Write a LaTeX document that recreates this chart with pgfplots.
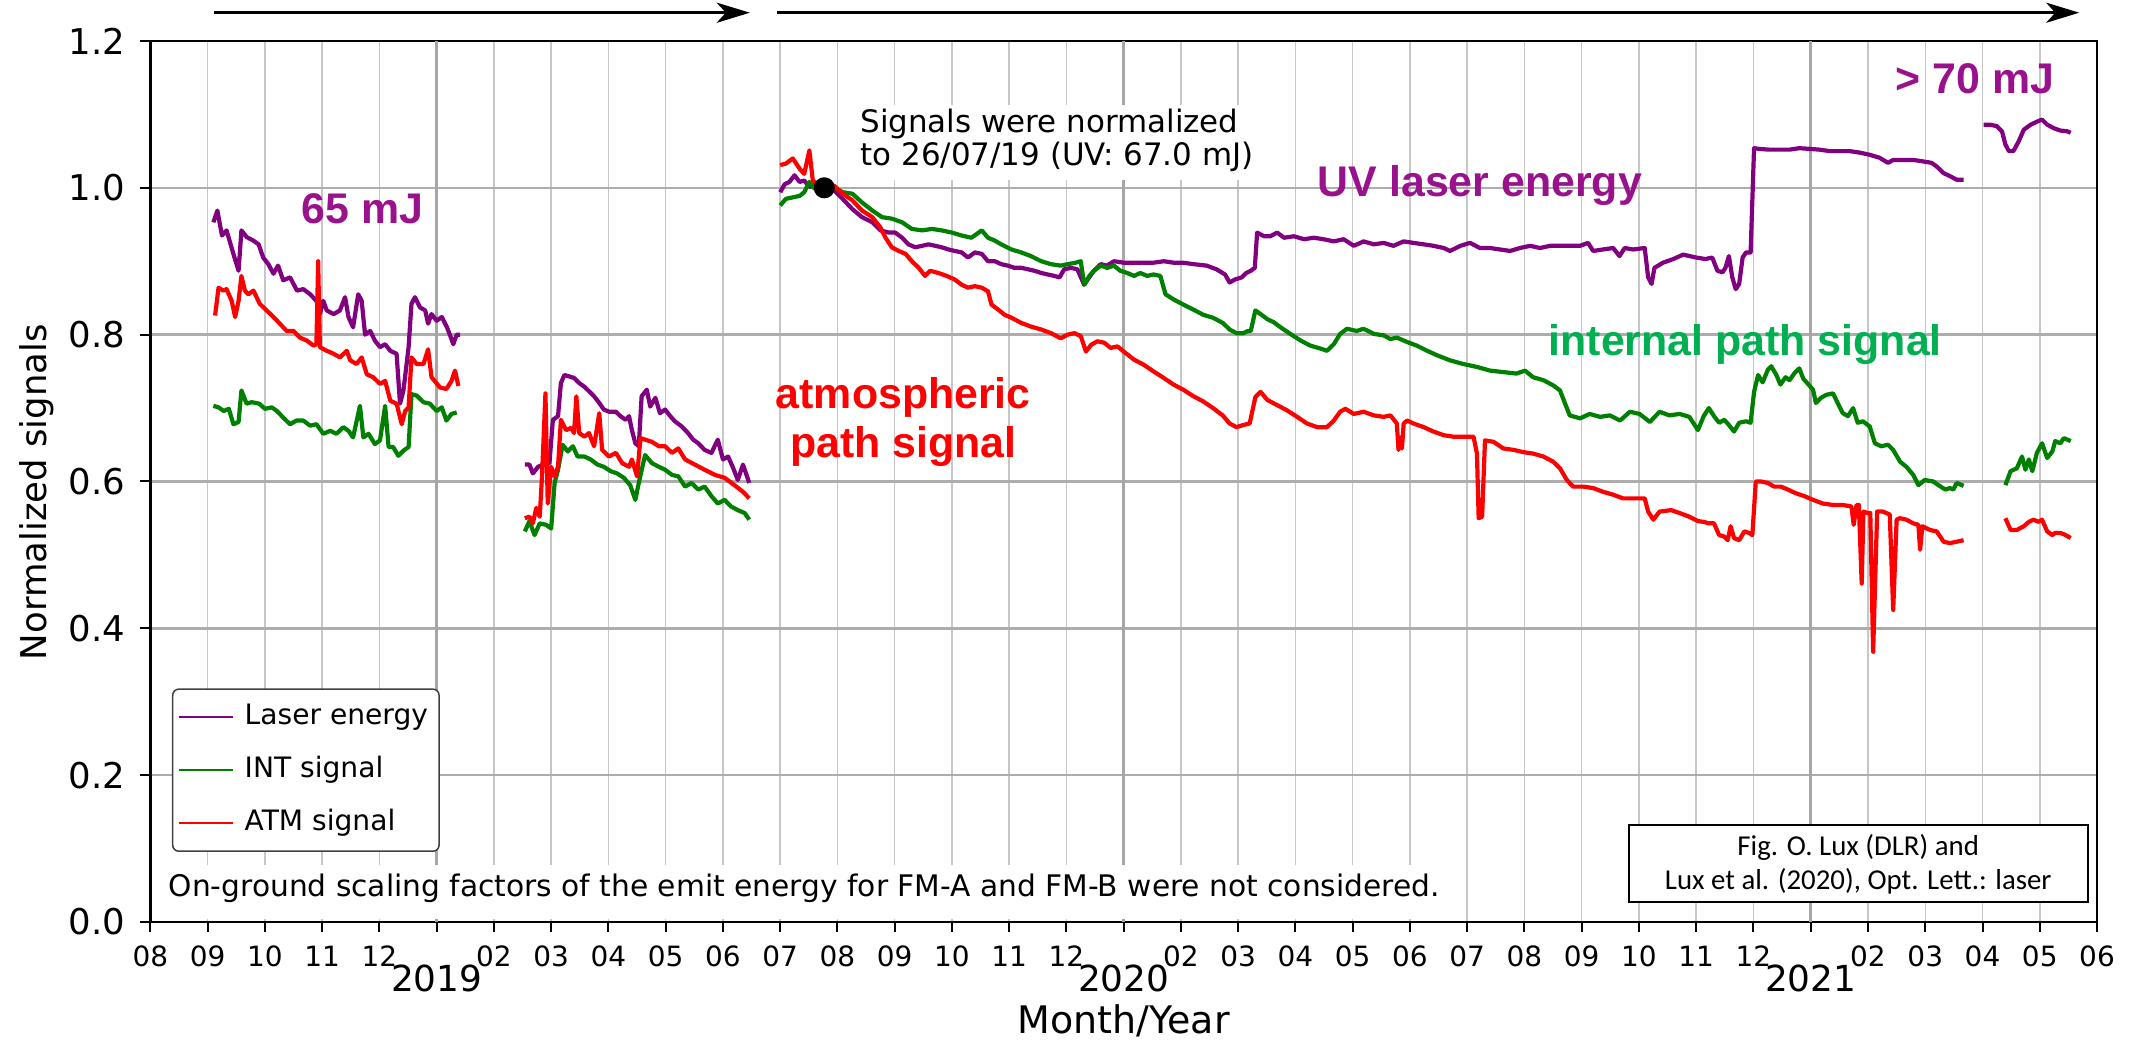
\documentclass[border=0pt]{standalone}
\usepackage{fontspec}
\setmainfont{DejaVu Sans}
\newfontfamily\annfont{Liberation Sans}
\newfontfamily\carlito{Carlito}
\usepackage{pgfplots}
\pgfplotsset{compat=1.18}
\usetikzlibrary{arrows.meta,calc}
\definecolor{cpurple}{RGB}{128,0,128}
\definecolor{cgreen}{RGB}{0,128,0}
\definecolor{cred}{RGB}{255,0,0}
\definecolor{tpurple}{RGB}{153,17,140}
\definecolor{tgreen}{RGB}{0,176,80}
\begin{document}
\begin{tikzpicture}
\useasboundingbox (-15.04mm,-12.4mm) rectangle (198.56mm,92.2mm);
\begin{axis}[
  at={(0,0)}, anchor=south west,
  scale only axis, width=194.66mm, height=88.1mm,
  xmin=0, xmax=34, ymin=0, ymax=1.2,
  clip=false, unbounded coords=jump,
  axis line style={line width=0.25mm},
  tick pos=left, tick align=outside,
  major tick length=1mm,
  tick style={black, line width=0.2mm},
  ytick={0,0.2,0.4,0.6,0.8,1.0,1.2},
  /pgf/number format/fixed, /pgf/number format/fixed zerofill,
  /pgf/number format/precision=1, /pgf/number format/assume math mode=true,
  yticklabel style={font=\fontsize{10.1}{12}\selectfont, xshift=-0.3mm},
  xtick={0,1,2,3,4,6,7,8,9,10,11,12,13,14,15,16,18,19,20,21,22,23,24,25,26,27,28,30,31,32,33,34},
  xticklabels={08,09,10,11,12,02,03,04,05,06,07,08,09,10,11,12,02,03,04,05,06,07,08,09,10,11,12,02,03,04,05,06},
  xticklabel style={font=\fontsize{7.95}{9}\selectfont, anchor=base, yshift=-3.5mm},
  extra x ticks={5,17,29}, extra x tick labels={},
  extra x tick style={x grid style={black!35, line width=0.3mm}},
  grid=major,
  x grid style={black!22, line width=0.15mm},
  y grid style={black!32, line width=0.25mm},
  legend cell align=left,
  legend image code/.code={\draw[#1, line width=0.2mm] (0mm,0mm) -- (5.4mm,0mm);},
  legend style={at={(0.0111,0.0795)}, anchor=south west, draw=black!75, line width=0.15mm,
    rounded corners=0.6mm, fill=white, inner xsep=0.5mm, inner ysep=0.9mm,
    nodes={inner sep=0.6mm}, column sep=0.5mm, row sep=1.45mm,
    font=\fontsize{8}{9.6}\selectfont},
  every axis plot/.append style={line width=0.42mm, line join=round},
]
\addplot[cpurple] coordinates {
(1.10,0.953) (1.17,0.969) (1.25,0.935) (1.33,0.942) (1.45,0.910) (1.54,0.887) (1.59,0.942) (1.68,0.933) (1.80,0.928) (1.89,0.923) (1.97,0.905) (2.06,0.896) (2.15,0.883) (2.23,0.894) (2.32,0.874) (2.44,0.878) (2.56,0.860) (2.67,0.862) (2.79,0.855) (2.90,0.846) (2.96,0.828) (3.02,0.846) (3.08,0.833) (3.20,0.828) (3.31,0.833) (3.40,0.851) (3.46,0.824) (3.54,0.810) (3.63,0.855) (3.69,0.846) (3.75,0.800) (3.84,0.805) (3.92,0.792) (4.01,0.783) (4.10,0.787) (4.19,0.778) (4.30,0.774) (4.36,0.706) (4.42,0.724) (4.51,0.783) (4.56,0.842) (4.62,0.851) (4.71,0.837) (4.80,0.833) (4.85,0.815) (4.91,0.828) (5.00,0.819) (5.09,0.824) (5.18,0.810) (5.23,0.800) (5.29,0.787) (5.35,0.800) (5.41,0.800)
(5.9,nan)
(6.54,0.623) (6.62,0.623) (6.68,0.611) (6.77,0.620) (6.86,0.623) (6.97,0.625) (7.03,0.684) (7.12,0.689) (7.17,0.734) (7.23,0.745) (7.32,0.743) (7.40,0.741) (7.49,0.734) (7.58,0.729) (7.66,0.723) (7.75,0.716) (7.84,0.707) (7.92,0.698) (8.01,0.695) (8.13,0.695) (8.21,0.689) (8.30,0.684) (8.36,0.689) (8.41,0.670) (8.47,0.652) (8.53,0.648) (8.58,0.716) (8.67,0.725) (8.73,0.702) (8.82,0.714) (8.90,0.693) (8.99,0.698) (9.08,0.689) (9.16,0.682) (9.28,0.675) (9.39,0.666) (9.48,0.657) (9.57,0.652) (9.68,0.643) (9.80,0.639) (9.91,0.657) (10.00,0.630) (10.09,0.634) (10.17,0.620) (10.26,0.602) (10.35,0.623) (10.46,0.598)
(10.7,nan)
(11.00,0.994) (11.08,1.005) (11.16,1.008) (11.25,1.017) (11.34,1.008) (11.42,1.010) (11.51,1.001) (11.62,1.005) (11.77,1.000) (11.91,0.999) (12.09,0.985) (12.26,0.971) (12.43,0.960) (12.61,0.953) (12.75,0.942) (12.90,0.939) (13.01,0.939) (13.13,0.932) (13.24,0.923) (13.36,0.919) (13.48,0.921) (13.59,0.923) (13.71,0.921) (13.82,0.919) (13.94,0.916) (14.05,0.914) (14.17,0.912) (14.28,0.905) (14.40,0.912) (14.52,0.910) (14.63,0.900) (14.75,0.900) (14.86,0.896) (14.98,0.894) (15.09,0.891) (15.21,0.891) (15.33,0.889) (15.44,0.887) (15.56,0.884) (15.67,0.882) (15.79,0.880) (15.88,0.878) (15.96,0.889) (16.08,0.891) (16.19,0.889) (16.31,0.868) (16.37,0.875) (16.48,0.887) (16.60,0.896) (16.71,0.894) (16.83,0.900) (17.00,0.898) (17.18,0.898) (17.35,0.898) (17.52,0.898) (17.70,0.900) (17.87,0.898) (18.04,0.898) (18.22,0.896) (18.45,0.894) (18.62,0.889) (18.77,0.882) (18.85,0.871) (18.94,0.875) (19.06,0.878) (19.14,0.884) (19.22,0.887) (19.29,0.891) (19.33,0.939) (19.45,0.934) (19.56,0.934) (19.68,0.939) (19.80,0.932) (19.97,0.934) (20.15,0.930) (20.32,0.932) (20.49,0.930) (20.67,0.927) (20.84,0.930) (21.02,0.921) (21.19,0.927) (21.37,0.923) (21.54,0.925) (21.71,0.921) (21.89,0.927) (22.06,0.925) (22.24,0.923) (22.41,0.921) (22.59,0.918) (22.70,0.914) (22.88,0.921) (23.05,0.925) (23.22,0.918) (23.40,0.918) (23.57,0.916) (23.75,0.914) (23.92,0.918) (24.10,0.921) (24.27,0.918) (24.45,0.921) (24.62,0.921) (24.79,0.921) (24.97,0.921) (25.11,0.925) (25.20,0.914) (25.37,0.916) (25.55,0.918) (25.66,0.907) (25.75,0.918) (25.90,0.916) (26.10,0.918) (26.16,0.878) (26.22,0.869) (26.27,0.891) (26.42,0.898) (26.60,0.903) (26.77,0.909) (27.00,0.905) (27.16,0.903) (27.28,0.905) (27.37,0.887) (27.46,0.885) (27.51,0.891) (27.57,0.907) (27.63,0.878) (27.69,0.862) (27.75,0.869) (27.81,0.905) (27.87,0.912) (27.95,0.912) (28.01,1.054) (28.10,1.053) (28.27,1.052) (28.45,1.052) (28.63,1.052) (28.80,1.054) (28.98,1.053) (29.15,1.052) (29.33,1.050) (29.50,1.050) (29.68,1.050) (29.85,1.048) (30.03,1.045) (30.20,1.041) (30.35,1.034) (30.44,1.038) (30.61,1.038) (30.79,1.038) (30.96,1.036) (31.11,1.034) (31.20,1.029) (31.32,1.020) (31.43,1.016) (31.55,1.011) (31.67,1.011)
(31.85,nan)
(32.02,1.086) (32.13,1.086) (32.25,1.084) (32.34,1.077) (32.40,1.059) (32.46,1.050) (32.54,1.050) (32.63,1.063) (32.72,1.079) (32.84,1.086) (32.95,1.090) (33.04,1.093) (33.13,1.086) (33.25,1.081) (33.36,1.078) (33.48,1.077) (33.54,1.075)
};
\addlegendentry{Laser energy}
\addplot[cgreen] coordinates {
(1.10,0.703) (1.19,0.701) (1.28,0.696) (1.37,0.699) (1.45,0.678) (1.54,0.681) (1.59,0.724) (1.68,0.706) (1.77,0.708) (1.90,0.706) (2.00,0.699) (2.12,0.701) (2.21,0.696) (2.32,0.687) (2.44,0.678) (2.55,0.683) (2.67,0.683) (2.79,0.676) (2.90,0.678) (3.02,0.665) (3.14,0.669) (3.25,0.665) (3.37,0.674) (3.46,0.669) (3.54,0.660) (3.66,0.703) (3.72,0.660) (3.81,0.665) (3.92,0.651) (4.01,0.656) (4.10,0.703) (4.16,0.647) (4.24,0.647) (4.33,0.635) (4.42,0.642) (4.51,0.647) (4.56,0.719) (4.65,0.717) (4.77,0.708) (4.88,0.706) (5.00,0.696) (5.09,0.701) (5.17,0.683) (5.26,0.692) (5.35,0.694)
(5.9,nan)
(6.54,0.532) (6.62,0.546) (6.71,0.527) (6.80,0.543) (6.91,0.541) (7.00,0.536) (7.06,0.598) (7.12,0.616) (7.20,0.650) (7.29,0.641) (7.38,0.648) (7.46,0.634) (7.58,0.634) (7.69,0.630) (7.81,0.623) (7.92,0.620) (8.04,0.614) (8.15,0.611) (8.27,0.605) (8.38,0.595) (8.47,0.575) (8.53,0.598) (8.64,0.636) (8.76,0.625) (8.88,0.620) (8.99,0.616) (9.11,0.609) (9.22,0.607) (9.34,0.593) (9.45,0.598) (9.57,0.589) (9.68,0.593) (9.80,0.580) (9.91,0.570) (10.03,0.575) (10.14,0.566) (10.26,0.561) (10.38,0.557) (10.46,0.548)
(10.7,nan)
(11.00,0.976) (11.10,0.985) (11.22,0.987) (11.34,0.989) (11.42,0.994) (11.51,1.008) (11.60,0.999) (11.77,1.000) (11.94,1.001) (12.09,0.994) (12.26,0.992) (12.43,0.980) (12.61,0.969) (12.78,0.960) (12.95,0.958) (13.13,0.953) (13.30,0.944) (13.48,0.942) (13.65,0.944) (13.82,0.942) (14.00,0.939) (14.17,0.935) (14.34,0.932) (14.52,0.942) (14.63,0.932) (14.75,0.928) (14.86,0.923) (15.04,0.916) (15.21,0.912) (15.38,0.907) (15.56,0.900) (15.73,0.896) (15.90,0.894) (16.02,0.896) (16.16,0.898) (16.25,0.900) (16.31,0.868) (16.40,0.880) (16.48,0.887) (16.60,0.894) (16.71,0.891) (16.83,0.894) (16.94,0.887) (17.06,0.884) (17.18,0.880) (17.29,0.884) (17.41,0.880) (17.52,0.882) (17.64,0.880) (17.73,0.855) (17.87,0.848) (18.04,0.841) (18.22,0.834) (18.39,0.827) (18.56,0.823) (18.73,0.816) (18.85,0.807) (18.97,0.802) (19.09,0.802) (19.17,0.805) (19.22,0.805) (19.30,0.833) (19.39,0.828) (19.51,0.821) (19.62,0.817) (19.74,0.810) (19.91,0.801) (20.09,0.792) (20.26,0.785) (20.44,0.781) (20.55,0.778) (20.67,0.787) (20.78,0.801) (20.90,0.808) (21.07,0.805) (21.19,0.808) (21.37,0.801) (21.54,0.799) (21.66,0.794) (21.77,0.796) (21.95,0.790) (22.12,0.785) (22.30,0.778) (22.47,0.772) (22.70,0.765) (22.93,0.760) (23.17,0.756) (23.40,0.751) (23.63,0.749) (23.86,0.747) (24.01,0.751) (24.15,0.742) (24.33,0.738) (24.50,0.731) (24.62,0.724) (24.71,0.706) (24.79,0.690) (24.97,0.686) (25.14,0.692) (25.32,0.688) (25.49,0.690) (25.67,0.683) (25.84,0.695) (26.01,0.692) (26.19,0.681) (26.36,0.695) (26.53,0.690) (26.71,0.692) (26.88,0.688) (27.03,0.670) (27.13,0.689) (27.22,0.700) (27.31,0.689) (27.40,0.680) (27.49,0.684) (27.57,0.677) (27.66,0.668) (27.75,0.680) (27.87,0.682) (27.95,0.680) (28.01,0.722) (28.08,0.745) (28.16,0.735) (28.25,0.752) (28.31,0.757) (28.40,0.745) (28.47,0.732) (28.56,0.742) (28.63,0.738) (28.72,0.748) (28.80,0.754) (28.87,0.740) (28.95,0.733) (29.04,0.725) (29.09,0.707) (29.18,0.714) (29.27,0.718) (29.39,0.720) (29.47,0.707) (29.56,0.693) (29.65,0.689) (29.74,0.700) (29.82,0.680) (29.91,0.682) (30.03,0.675) (30.12,0.652) (30.23,0.648) (30.35,0.650) (30.44,0.643) (30.56,0.627) (30.67,0.620) (30.79,0.609) (30.88,0.595) (30.99,0.602) (31.14,0.600) (31.23,0.595) (31.35,0.589) (31.43,0.591) (31.49,0.589) (31.55,0.598) (31.67,0.594)
(32.0,nan)
(32.40,0.595) (32.49,0.614) (32.60,0.618) (32.69,0.634) (32.75,0.616) (32.81,0.630) (32.87,0.614) (32.95,0.639) (33.04,0.652) (33.13,0.632) (33.22,0.641) (33.27,0.655) (33.36,0.652) (33.42,0.659) (33.54,0.655)
};
\addlegendentry{INT signal}
\addplot[cred] coordinates {
(1.13,0.826) (1.19,0.864) (1.27,0.860) (1.33,0.862) (1.42,0.846) (1.48,0.824) (1.54,0.846) (1.59,0.880) (1.65,0.860) (1.71,0.855) (1.80,0.860) (1.91,0.842) (2.03,0.833) (2.15,0.824) (2.26,0.815) (2.38,0.805) (2.50,0.805) (2.61,0.796) (2.73,0.792) (2.85,0.785) (2.90,0.787) (2.93,0.900) (2.96,0.783) (3.08,0.778) (3.20,0.774) (3.31,0.769) (3.43,0.778) (3.49,0.765) (3.60,0.760) (3.69,0.769) (3.78,0.746) (3.89,0.742) (4.01,0.733) (4.10,0.737) (4.19,0.710) (4.30,0.706) (4.39,0.678) (4.45,0.696) (4.51,0.701) (4.56,0.769) (4.65,0.760) (4.77,0.760) (4.85,0.780) (4.91,0.742) (5.06,0.728) (5.17,0.726) (5.26,0.737) (5.32,0.751) (5.38,0.730)
(5.9,nan)
(6.54,0.550) (6.62,0.552) (6.68,0.543) (6.74,0.564) (6.80,0.552) (6.84,0.607) (6.90,0.720) (6.94,0.570) (7.00,0.620) (7.06,0.607) (7.12,0.620) (7.17,0.684) (7.26,0.670) (7.35,0.673) (7.40,0.666) (7.44,0.716) (7.49,0.666) (7.58,0.661) (7.66,0.666) (7.75,0.648) (7.84,0.693) (7.89,0.643) (8.01,0.634) (8.13,0.639) (8.24,0.625) (8.36,0.620) (8.41,0.630) (8.50,0.607) (8.56,0.659) (8.64,0.657) (8.76,0.654) (8.88,0.648) (8.99,0.648) (9.11,0.639) (9.22,0.645) (9.34,0.630) (9.51,0.623) (9.68,0.616) (9.86,0.609) (10.03,0.605) (10.20,0.595) (10.35,0.586) (10.46,0.577)
(10.7,nan)
(11.00,1.031) (11.10,1.033) (11.22,1.040) (11.28,1.033) (11.34,1.026) (11.42,1.019) (11.51,1.051) (11.57,1.010) (11.65,1.005) (11.77,1.000) (11.94,1.003) (12.09,0.992) (12.26,0.983) (12.43,0.969) (12.61,0.960) (12.75,0.946) (12.84,0.932) (12.95,0.919) (13.07,0.914) (13.19,0.910) (13.30,0.900) (13.42,0.891) (13.53,0.880) (13.62,0.887) (13.76,0.884) (13.91,0.880) (14.05,0.875) (14.17,0.868) (14.28,0.864) (14.40,0.866) (14.52,0.864) (14.63,0.859) (14.69,0.841) (14.81,0.834) (14.92,0.827) (15.04,0.823) (15.21,0.816) (15.38,0.811) (15.56,0.807) (15.73,0.802) (15.90,0.795) (16.02,0.800) (16.14,0.802) (16.25,0.798) (16.34,0.777) (16.43,0.786) (16.54,0.791) (16.66,0.789) (16.77,0.782) (16.89,0.784) (17.00,0.777) (17.18,0.766) (17.35,0.759) (17.52,0.750) (17.70,0.741) (17.87,0.732) (18.04,0.725) (18.22,0.716) (18.39,0.709) (18.56,0.700) (18.73,0.690) (18.85,0.679) (18.97,0.674) (19.09,0.677) (19.20,0.679) (19.30,0.715) (19.39,0.722) (19.51,0.711) (19.68,0.704) (19.85,0.697) (20.03,0.688) (20.20,0.679) (20.38,0.674) (20.55,0.674) (20.67,0.683) (20.78,0.695) (20.87,0.699) (21.02,0.692) (21.19,0.695) (21.37,0.690) (21.54,0.688) (21.66,0.690) (21.77,0.679) (21.80,0.643) (21.83,0.660) (21.86,0.645) (21.89,0.679) (21.95,0.683) (22.06,0.679) (22.24,0.674) (22.41,0.668) (22.59,0.663) (22.76,0.661) (22.93,0.661) (23.11,0.661) (23.17,0.638) (23.20,0.550) (23.26,0.552) (23.31,0.656) (23.46,0.654) (23.63,0.645) (23.81,0.643) (23.98,0.640) (24.15,0.638) (24.33,0.634) (24.50,0.627) (24.62,0.618) (24.74,0.602) (24.85,0.593) (25.03,0.593) (25.20,0.591) (25.37,0.586) (25.55,0.582) (25.72,0.577) (25.90,0.577) (26.10,0.577) (26.16,0.559) (26.25,0.548) (26.36,0.559) (26.56,0.561) (26.71,0.557) (26.88,0.552) (27.03,0.546) (27.13,0.545) (27.22,0.543) (27.31,0.543) (27.40,0.527) (27.49,0.525) (27.55,0.520) (27.60,0.539) (27.66,0.523) (27.75,0.520) (27.84,0.532) (27.92,0.530) (27.98,0.527) (28.04,0.600) (28.13,0.600) (28.25,0.598) (28.36,0.593) (28.48,0.593) (28.60,0.589) (28.74,0.584) (28.89,0.580) (29.04,0.575) (29.21,0.570) (29.39,0.568) (29.56,0.568) (29.71,0.566) (29.75,0.541) (29.80,0.568) (29.84,0.568) (29.89,0.461) (29.92,0.559) (30.00,0.557) (30.04,0.557) (30.09,0.368) (30.16,0.559) (30.26,0.559) (30.38,0.555) (30.44,0.425) (30.50,0.548) (30.56,0.550) (30.67,0.548) (30.79,0.543) (30.88,0.541) (30.91,0.507) (30.95,0.539) (31.08,0.534) (31.20,0.532) (31.32,0.518) (31.43,0.516) (31.55,0.518) (31.67,0.520)
(32.0,nan)
(32.40,0.550) (32.49,0.534) (32.60,0.534) (32.72,0.539) (32.81,0.545) (32.89,0.548) (32.98,0.545) (33.04,0.548) (33.13,0.532) (33.22,0.527) (33.27,0.530) (33.36,0.530) (33.45,0.527) (33.54,0.523)
};
\addlegendentry{ATM signal}
\addplot[only marks, mark=*, mark size=2.4pt, black, forget plot] coordinates {(11.77,1.0)};
% white boxes behind texts
\fill[white] (axis cs:0.17,0.004) rectangle (axis cs:22.79,0.0776);
\node[anchor=base west, inner sep=0pt, font=\fontsize{8.45}{10}\selectfont] at (axis cs:0.307,0.0341) {On-ground scaling factors of the emit energy for FM-A and FM-B were not considered.};
\fill[white] (axis cs:12.25,1.0106) rectangle (axis cs:19.59,1.1128);
\node[anchor=base west, inner sep=0pt, font=\fontsize{8.8}{10}\selectfont] at (axis cs:12.39,1.076) {Signals were normalized};
\node[anchor=base west, inner sep=0pt, font=\fontsize{8.8}{10}\selectfont] at (axis cs:12.39,1.030) {to 26/07/19 (UV: 67.0 mJ)};
\node[draw=black, line width=0.2mm, fill=white, minimum width=45.9mm, minimum height=7.7mm, align=center, inner sep=0pt, font=\carlito\fontsize{8.2}{9.7}\selectfont] at (axis cs:29.83,0.079) {Fig. O. Lux (DLR) and\\Lux et al. (2020), Opt. Lett.: laser};
% coloured annotations
\node[anchor=base west, inner sep=0pt, text=tpurple, font=\annfont\bfseries\fontsize{12.2}{14}\selectfont] at (axis cs:2.63,0.951) {65 mJ};
\node[anchor=base west, inner sep=0pt, text=tpurple, font=\annfont\bfseries\fontsize{12.2}{14}\selectfont] at (axis cs:20.38,0.9875) {UV laser energy};
\node[anchor=base west, inner sep=0pt, text=tpurple, font=\annfont\bfseries\fontsize{12.2}{14}\selectfont] at (axis cs:30.47,1.1287) {> 70 mJ};
\node[anchor=base, inner sep=0pt, text=cred, font=\annfont\bfseries\fontsize{12.2}{14}\selectfont] at (axis cs:13.15,0.700) {atmospheric};
\node[anchor=base, inner sep=0pt, text=cred, font=\annfont\bfseries\fontsize{12.2}{14}\selectfont] at (axis cs:13.15,0.632) {path signal};
\node[anchor=base west, inner sep=0pt, text=tgreen, font=\annfont\bfseries\fontsize{12.2}{14}\selectfont] at (axis cs:24.41,0.772) {internal path signal};
% arrows above the axis
\draw[line width=0.35mm, -{Stealth[length=3.3mm, width=2.0mm, inset=0.9mm]}] (axis cs:1.11,1.2385) -- (axis cs:10.47,1.2385);
\draw[line width=0.35mm, -{Stealth[length=3.3mm, width=2.0mm, inset=0.9mm]}] (axis cs:10.94,1.2385) -- (axis cs:33.69,1.2385);
% axis descriptions
\node[anchor=base, font=\fontsize{10.2}{12}\selectfont] at ($(axis cs:5,0)+(0,-7.0mm)$) {2019};
\node[anchor=base, font=\fontsize{10.2}{12}\selectfont] at ($(axis cs:17,0)+(0,-7.0mm)$) {2020};
\node[anchor=base, font=\fontsize{10.2}{12}\selectfont] at ($(axis cs:29,0)+(0,-7.0mm)$) {2021};
\node[anchor=base, font=\fontsize{10.8}{13}\selectfont] at ($(axis cs:17,0)+(0,-11.2mm)$) {Month/Year};
\node[anchor=base, rotate=90, font=\fontsize{10.1}{12}\selectfont] at ($(rel axis cs:0,0.488)+(-10.4mm,0)$) {Normalized signals};
\end{axis}
\end{tikzpicture}
\end{document}
